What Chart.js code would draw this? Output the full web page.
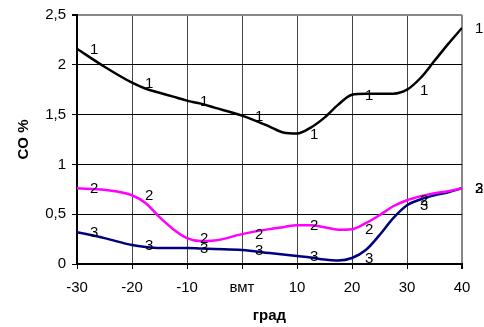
<!DOCTYPE html>
<html>
<head>
<meta charset="utf-8">
<script src="https://cdn.jsdelivr.net/npm/chart.js@4.4.1/dist/chart.umd.min.js"></script>
<style>
  html, body { margin: 0; padding: 0; background: #fff; }
  #wrap { width: 484px; height: 327px; }
</style>
</head>
<body>
<div id="wrap"><canvas id="my-chart" width="484" height="327"></canvas></div>
<script>
'use strict';

// *********** GLOBAL VARIABLES ****************

// degrees (x positions the curves were read at)
let degrees = [-30, -25, -20, -17.5, -15, -12.5, -10, -7.5, -5, 0, 5, 7.5, 10, 12.5, 15, 17.5, 20, 22.5, 25, 27.5, 30, 32.5, 35, 37.5, 40];

// CO % for each curve
let coOne = [2.16, 1.98, 1.82, 1.76, 1.72, 1.68, 1.64, 1.61, 1.57, 1.49, 1.38, 1.32, 1.31, 1.37, 1.47, 1.60, 1.70, 1.71, 1.71, 1.71, 1.75, 1.87, 2.04, 2.21, 2.37];
let coTwo = [0.76, 0.745, 0.69, 0.61, 0.47, 0.35, 0.26, 0.23, 0.235, 0.30, 0.35, 0.37, 0.39, 0.39, 0.37, 0.345, 0.35, 0.41, 0.49, 0.58, 0.64, 0.68, 0.71, 0.73, 0.76];
let coThree = [0.32, 0.26, 0.19, 0.17, 0.16, 0.16, 0.16, 0.155, 0.15, 0.14, 0.11, 0.095, 0.08, 0.065, 0.045, 0.035, 0.06, 0.14, 0.29, 0.46, 0.59, 0.65, 0.69, 0.72, 0.76];

let seriesNames = ['1', '2', '3'];
let seriesColors = ['#000000', '#ff00ff', '#000080'];

// points that carry a number label
let labelDegrees = [-30, -20, -10, 0, 10, 20, 30, 40];

// axis ticks
let xTicks = [-30, -20, -10, 0, 10, 20, 30, 40];
let xTickLabels = ['-30', '-20', '-10', 'вмт', '10', '20', '30', '40'];
let yTicks = [0, 0.5, 1, 1.5, 2, 2.5];
let yTickLabels = ['0', '0,5', '1', '1,5', '2', '2,5'];

let fontFamily = '"Liberation Sans", Arial, sans-serif';

// ************ CANVAS REFERENCE ****************
let ctx = document.getElementById('my-chart').getContext('2d');

// ********** HELPER FUNCTIONS ********************

function makePoints(values){
  let pts = [];
  for(let i=0;i<degrees.length;i++){
    pts.push({x: degrees[i], y: values[i]});
  }
  return pts;
}

let allValues = [coOne, coTwo, coThree];
let datasets = [];
for(let i=0;i<allValues.length;i++){
  datasets.push({
    label: seriesNames[i],
    data: makePoints(allValues[i]),
    borderColor: seriesColors[i],
    backgroundColor: seriesColors[i],
    borderWidth: 2.5,
    pointRadius: 0,
    showLine: true,
    cubicInterpolationMode: 'monotone'
  });
}

// draws the "1" "2" "3" next to the labelled points
let numberLabels = {
  id: 'numberLabels',
  afterDatasetsDraw(chart){
    let c = chart.ctx;
    let xs = chart.scales.x;
    let ys = chart.scales.y;
    c.save();
    c.font = '15px ' + fontFamily;
    c.fillStyle = '#000';
    c.textAlign = 'left';
    c.textBaseline = 'middle';
    chart.data.datasets.forEach(function(ds){
      ds.data.forEach(function(p){
        if(labelDegrees.includes(p.x)){
          c.fillText(ds.label, xs.getPixelForValue(p.x) + 13, ys.getPixelForValue(p.y) + 1);
        }
      });
    });
    c.restore();
  }
};

// *********** RENDER CHART ****************

let myChartObj = {
  type: 'scatter',
  data: { datasets: datasets },
  options: {
    responsive: false,
    animation: false,
    layout: { padding: { left: 0, top: 14, right: 22, bottom: 0 } },
    plugins: {
      legend: { display: false },
      tooltip: { enabled: false }
    },
    scales: {
      x: {
        type: 'linear',
        min: -30,
        max: 40,
        afterBuildTicks: function(axis){
          axis.ticks = xTicks.map(function(v){ return {value: v}; });
        },
        afterFit: function(axis){ axis.height = 63; },
        ticks: {
          color: '#000',
          font: { family: fontFamily, size: 15 },
          padding: 10,
          maxRotation: 0,
          callback: function(value){
            let i = xTicks.indexOf(value);
            return i >= 0 ? xTickLabels[i] : '';
          }
        },
        grid: {
          color: function(context){ return context.tick && context.tick.value === 40 ? '#888' : '#444'; },
          lineWidth: function(context){ return context.tick && context.tick.value === 40 ? 2 : 1; },
          tickColor: '#000',
          tickLength: 5
        },
        border: { color: '#000', width: 2 },
        title: {
          display: true,
          text: 'град',
          color: '#000',
          font: { family: fontFamily, size: 15, weight: 'bold' },
          padding: { top: 0, bottom: 2 }
        }
      },
      y: {
        type: 'linear',
        min: 0,
        max: 2.5,
        afterBuildTicks: function(axis){
          axis.ticks = yTicks.map(function(v){ return {value: v}; });
        },
        afterFit: function(axis){ axis.width = 77; },
        ticks: {
          color: '#000',
          font: { family: fontFamily, size: 15 },
          padding: 6,
          callback: function(value){
            let i = yTicks.indexOf(value);
            return i >= 0 ? yTickLabels[i] : '';
          }
        },
        grid: {
          color: function(context){ return context.tick && context.tick.value === 2.5 ? '#888' : '#000'; },
          lineWidth: function(context){ return context.tick && context.tick.value === 2.5 ? 2 : 1; },
          tickColor: '#000',
          tickLength: 5
        },
        border: { color: '#000', width: 2 },
        title: {
          display: true,
          text: 'CO %',
          color: '#000',
          font: { family: fontFamily, size: 15, weight: 'bold' },
          padding: { top: 15, bottom: 0 }
        }
      }
    }
  },
  plugins: [numberLabels]
};

new Chart(ctx, myChartObj);
</script>
</body>
</html>
